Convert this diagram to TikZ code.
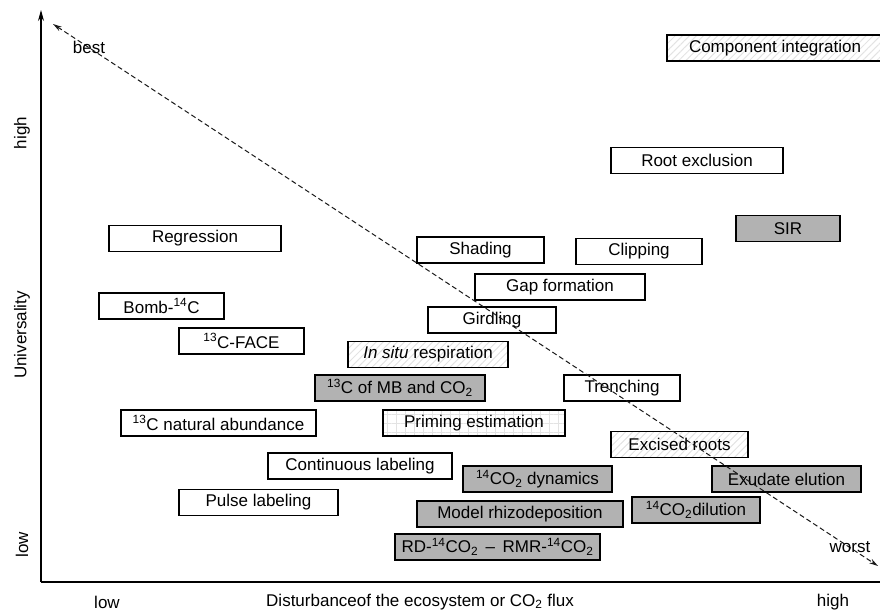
\documentclass[tikz,border=0pt]{standalone}
\usepackage{fontspec}
\setmainfont{Liberation Sans}
\usetikzlibrary{arrows.meta,patterns.meta}

\tikzset{
	method/.style={draw=black, line width=1.2pt, minimum height=26pt, inner sep=0pt, font=\fontsize{17}{20}\selectfont},
	plainbox/.style={method, fill=white},
	graybox/.style={method, fill=gray!60},
	hatchbox/.style={method, pattern={Lines[angle=45, distance=5pt, line width=1pt]}, pattern color=gray!22},
	gridbox/.style={method, pattern={Hatch[angle=0, distance=9pt, line width=0.7pt]}, pattern color=gray!22},
	axislabel/.style={font=\fontsize{17}{20}\selectfont},
}

\begin{document}
\begin{tikzpicture}[x=1pt, y=-1pt]
	\useasboundingbox (0,0) rectangle (880,612);

	% axes
	\coordinate (origin) at (41,582);
	\coordinate (ytop)   at (41,10);
	\coordinate (xend)   at (881,582);
	\draw[line width=1.2pt, -{Stealth[length=11pt, width=6pt]}] (origin) -- (ytop);
	\draw[line width=1.2pt] (origin) -- (xend);

	\node[axislabel, rotate=90] (yhigh) at (22,133) {high};
	\node[axislabel, rotate=90] (yname) at (22,335) {Universality};
	\node[axislabel, rotate=90] (ylow)  at (22,545) {low};
	\node[axislabel] (xlow)  at (107,602) {low};
	\node[axislabel] (xname) at (420,602) {Disturbanceof the ecosystem or CO\textsubscript{2} flux};
	\node[axislabel] (xhigh) at (833,602) {high};

	% methods
	\node[hatchbox, minimum width=216pt] (component) at (775,48)    {Component integration};
	\node[plainbox, minimum width=172pt] (rootexcl)  at (697,160.5) {Root exclusion};
	\node[graybox,  minimum width=104pt] (sir)       at (788,228.5) {SIR};
	\node[plainbox, minimum width=172pt] (regress)   at (195,238.5) {Regression};
	\node[plainbox, minimum width=127pt] (shading)   at (480.5,250) {Shading};
	\node[plainbox, minimum width=126pt] (clipping)  at (639,251.5) {Clipping};
	\node[plainbox, minimum width=170pt] (gap)       at (560,287)   {Gap formation};
	\node[plainbox, minimum width=125pt] (bomb)      at (161.5,306) {Bomb-\textsuperscript{14}C};
	\node[plainbox, minimum width=128pt] (girdling)  at (492,320)   {Girdling};
	\node[plainbox, minimum width=125pt] (face)      at (241.5,341) {\textsuperscript{13}C-FACE};
	\node[hatchbox, minimum width=160pt] (insitu)    at (428,354.5) {\textit{In situ} respiration};
	\node[graybox,  minimum width=170pt] (mbco)      at (400,388)   {\textsuperscript{13}C of MB and CO\textsubscript{2}};
	\node[plainbox, minimum width=116pt] (trench)    at (622,388)   {Trenching};
	\node[plainbox, minimum width=195pt] (natabund)  at (218.5,423) {\textsuperscript{13}C natural abundance};
	\node[gridbox,  minimum width=182pt] (priming)   at (474,423)   {Priming estimation};
	\node[hatchbox, minimum width=137pt] (excised)   at (679.5,444.5) {Excised roots};
	\node[plainbox, minimum width=184pt] (contlab)   at (360,466)   {Continuous labeling};
	\node[graybox,  minimum width=149pt] (dynamics)  at (537.5,479) {\textsuperscript{14}CO\textsubscript{2} dynamics};
	\node[graybox,  minimum width=149pt] (exudate)   at (786.5,479) {Exudate elution};
	\node[plainbox, minimum width=159pt] (pulselab)  at (258.5,502.5) {Pulse labeling};
	\node[graybox,  minimum width=128pt] (dilution)  at (696,510)   {\textsuperscript{14}CO\textsubscript{2}dilution};
	\node[graybox,  minimum width=206pt] (model)     at (520,514)   {Model rhizodeposition};
	\node[graybox,  minimum width=205pt] (rdrmr)     at (497.5,547) {RD-\textsuperscript{14}CO\textsubscript{2} \,--\, RMR-\textsuperscript{14}CO\textsubscript{2}};

	% best / worst diagonal
	\coordinate (best)  at (53,24);
	\coordinate (worst) at (878,566);
	\draw[gray!20!black, line width=1pt, dash pattern=on 5pt off 3pt,
		{Stealth[length=9pt, width=5pt]}-{Stealth[length=9pt, width=5pt]}] (best) -- (worst);
	\node[axislabel] (bestlbl)  at (89,47)  {best};
	\node[axislabel] (worstlbl) at (850,547) {worst};
\end{tikzpicture}
\end{document}
